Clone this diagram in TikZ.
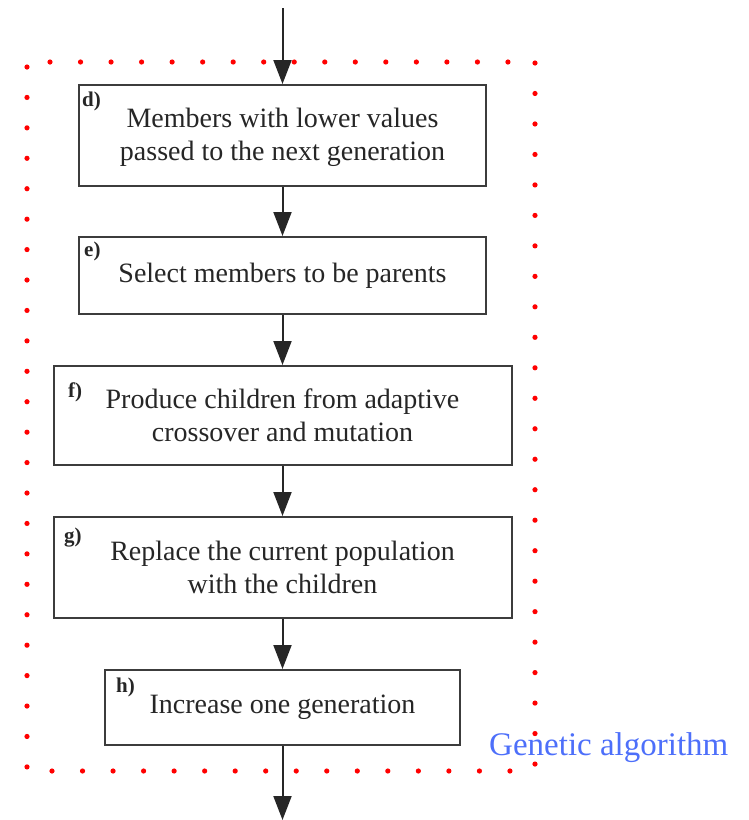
\documentclass[tikz,border=0pt]{standalone}
\usepackage{fontspec}
\setmainfont{Liberation Serif}
\usetikzlibrary{arrows.meta}
\definecolor{gablue}{RGB}{77,111,250}
\definecolor{boxline}{RGB}{60,60,60}
\begin{document}
\begin{tikzpicture}[x=1pt,y=-1pt,
  stepbox/.style={draw=boxline,line width=2pt,fill=white,align=center,inner sep=0pt,
    font=\fontsize{28}{33}\selectfont,text=black!85},
  lab/.style={font=\bfseries\fontsize{21}{23}\selectfont,anchor=west,inner sep=0pt,text=black!85},
  flow/.style={draw=black!85,line width=2pt,-{Triangle[length=24pt,width=18pt]}},
  reddot/.style={fill=red}]
\useasboundingbox (0,0) rectangle (748,820);
% dotted frame
\foreach \i in {0,...,15} {\fill[reddot] (50+30.53*\i,62) circle (2.6);}
\foreach \i in {0,...,15} {\fill[reddot] (52+30.53*\i,771) circle (2.6);}
\foreach \j in {0,...,23} {\fill[reddot] (27,67+30.43*\j) circle (2.6);}
\foreach \j in {0,...,23} {\fill[reddot] (535,63+30.48*\j) circle (2.6);}
% boxes
\node[stepbox,minimum width=407,minimum height=101] (d) at (282.5,135.5)
  {\strut Members with lower values\\passed to the next generation};
\node[stepbox,minimum width=407,minimum height=77] (e) at (282.5,275.5)
  {Select members to be parents};
\node[stepbox,minimum width=458,minimum height=99] (f) at (282.5,415.5)
  {Produce children from adaptive\\crossover and mutation};
\node[stepbox,minimum width=458,minimum height=101] (g) at (282.5,567.5)
  {Replace the current population\\with the children};
\node[stepbox,minimum width=355,minimum height=75] (h) at (282.5,707.5)
  {Increase one generation};
% labels
\node[lab] (ld) at (82,101) {d)};
\node[lab] (le) at (84,251) {e)};
\node[lab] (lf) at (68,392) {f)};
\node[lab] (lg) at (64,538) {g)};
\node[lab] (lh) at (116,687) {h)};
% connectors
\coordinate (top) at (282.5,8);
\coordinate (bot) at (282.5,820);
\draw[flow] (top) -- (d.north);
\draw[flow] (d.south) -- (e.north);
\draw[flow] (e.south) -- (f.north);
\draw[flow] (f.south) -- (g.north);
\draw[flow] (g.south) -- (h.north);
\draw[flow] (h.south) -- (bot);
% title
\node[anchor=west,inner sep=0pt,text=gablue,font=\fontsize{33}{36}\selectfont] (ga) at (489,748) {Genetic algorithm};
\end{tikzpicture}
\end{document}
